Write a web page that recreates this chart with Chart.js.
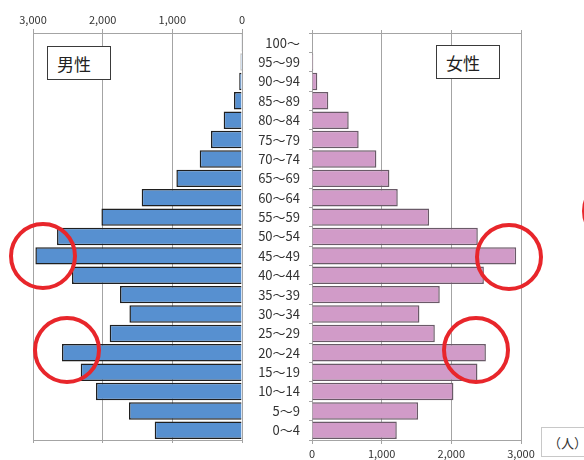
<!DOCTYPE html>
<html>
<head>
<meta charset="utf-8">
<script src="https://cdn.jsdelivr.net/npm/chart.js@4/dist/chart.umd.min.js"></script>
<style>
  html, body { margin: 0; padding: 0; background: #fff; }
  #wrap { position: relative; width: 584px; height: 460px; overflow: hidden; }
  canvas { position: absolute; left: 0; top: 0; }
  .tag {
    position: absolute; background: #fff; border: 1px solid #3a3a3a; box-sizing: border-box;
    font-family: "Noto Sans CJK JP", sans-serif; font-size: 17px; color: #222;
    display: flex; align-items: center; justify-content: flex-start; padding-left: 9px;
  }
  .unit { border-color: #c8c8c8; font-size: 13px; color: #333; padding-left: 6px; }
  .ring { position: absolute; border: 4px solid #e8262b; border-radius: 50%; box-sizing: border-box; }
</style>
</head>
<body>
<div id="wrap">
  <canvas id="male" width="584" height="460"></canvas>
  <canvas id="female" width="584" height="460"></canvas>
  <div class="tag" style="left:47px;top:46px;width:64px;height:34px;">男性</div>
  <div class="tag" style="left:436px;top:45px;width:64px;height:34px;">女性</div>
  <div class="tag unit" style="left:541px;top:427px;width:50px;height:30px;">（人）</div>
  <div class="ring" style="left:9px;top:222px;width:68px;height:68px;"></div>
  <div class="ring" style="left:33px;top:316px;width:68px;height:68px;"></div>
  <div class="ring" style="left:475px;top:223px;width:68px;height:68px;"></div>
  <div class="ring" style="left:442px;top:316px;width:68px;height:68px;"></div>
  <div class="ring" style="left:582px;top:177px;width:68px;height:68px;"></div>
</div>
<script>
// Age groups, top of the pyramid first
const ageGroups = ['100～', '95～99', '90～94', '85～89', '80～84', '75～79', '70～74',
  '65～69', '60～64', '55～59', '50～54', '45～49', '40～44', '35～39', '30～34',
  '25～29', '20～24', '15～19', '10～14', '5～9', '0～4'];

// Population (persons)
const male = [3, 20, 40, 115, 263, 445, 607, 942, 1440, 2018, 2655, 2966, 2440,
  1751, 1616, 1899, 2584, 2315, 2096, 1622, 1253];
const female = [6, 18, 76, 234, 527, 670, 924, 1111, 1231, 1681, 2380, 2931, 2467,
  1834, 1542, 1763, 2496, 2375, 2030, 1523, 1217];

// Value axis ticks
const axisTicks = [0, 1000, 2000, 3000];

const gridGray = '#a4a4a4';
const tickFont = { family: '"Noto Sans CJK JP", sans-serif', size: 11 };
const setTicks = s => { s.ticks = axisTicks.map(v => ({ value: v })); };

function valueAxis(position, reverse, showLabels, size) {
  return {
    type: 'linear', axis: 'x', position, reverse, min: 0, max: 3000,
    afterBuildTicks: setTicks,
    grid: { color: gridGray, tickLength: showLabels ? 4 : 3, drawOnChartArea: showLabels },
    border: { color: gridGray },
    ticks: { display: showLabels, font: tickFont, color: '#333', padding: 3 },
    afterFit: s => { s.height = size; }
  };
}

const common = {
  indexAxis: 'y', responsive: false, animation: false,
  plugins: { legend: { display: false }, tooltip: { enabled: false } }
};

// Left half: male, growing leftwards from zero
new Chart(document.getElementById('male'), {
  type: 'bar',
  data: {
    labels: ageGroups,
    datasets: [{ data: male, backgroundColor: '#5790d0', borderColor: '#1f1f1f',
      borderWidth: 1.5, barPercentage: 0.9, categoryPercentage: 1 }]
  },
  options: {
    ...common,
    layout: { padding: { left: 33, right: 342, top: 0, bottom: 0 } },
    scales: {
      x: valueAxis('top', true, true, 33),
      xb: valueAxis('bottom', true, false, 20),
      y: { display: false }
    }
  }
});

// Right half: female, with the age labels between the two halves
new Chart(document.getElementById('female'), {
  type: 'bar',
  data: {
    labels: ageGroups,
    datasets: [{ data: female, backgroundColor: '#d19bc8', borderColor: '#6a5a68',
      borderWidth: 1.5, barPercentage: 0.9, categoryPercentage: 1 }]
  },
  options: {
    ...common,
    layout: { padding: { left: 240, right: 63, top: 0, bottom: 0 } },
    scales: {
      x: valueAxis('bottom', false, true, 20),
      xt: valueAxis('top', false, false, 33),
      y: {
        position: 'left',
        grid: { color: gridGray, tickLength: 3, drawOnChartArea: false },
        border: { color: gridGray },
        ticks: { font: { family: '"Noto Sans CJK JP", sans-serif', size: 13 }, color: '#333', padding: 9 },
        afterFit: s => { s.width = 72; }
      }
    }
  }
});
</script>
</body>
</html>
